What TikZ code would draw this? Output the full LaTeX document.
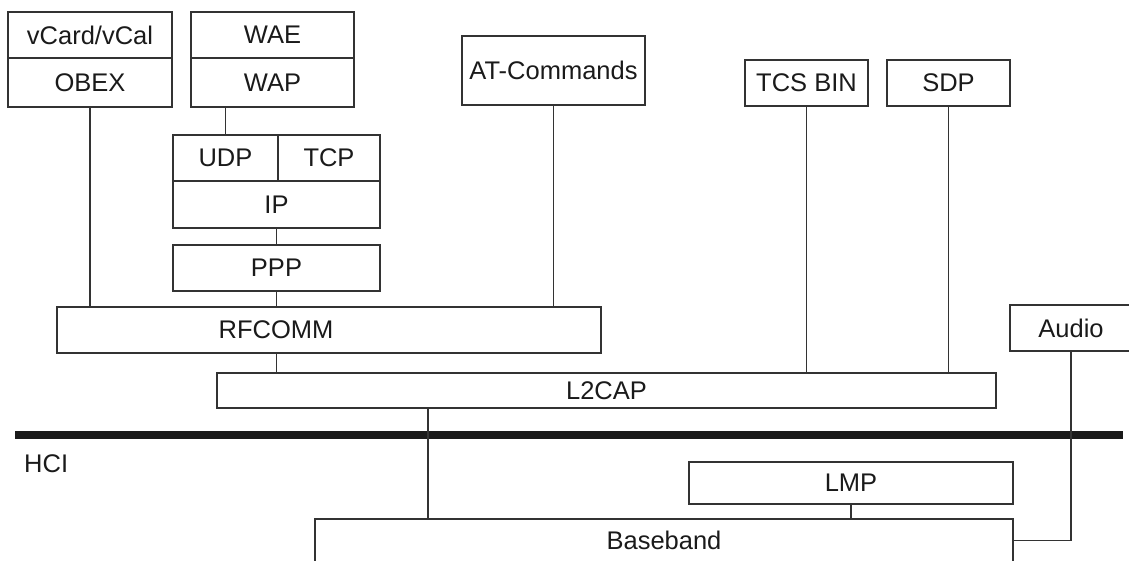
\documentclass[tikz,border=0pt]{standalone}
\usepackage{fontspec}
\setmainfont{Liberation Sans}
\definecolor{edge}{HTML}{333333}
\definecolor{ink}{HTML}{1A1A1A}
\begin{document}
\begin{tikzpicture}[x=1pt,y=-1pt,
  layer/.style={draw=edge, line width=1.8pt, inner sep=0pt, text=ink,
    font=\fontsize{25.5}{30}\selectfont},
  conn/.style={draw=edge, line width=1.8pt},
  bus/.style={draw=ink, line width=8.5pt}]
\useasboundingbox (0,0) rectangle (1129,560);
\clip (0,0) rectangle (1129,560);
% top row
\node[layer, minimum width=164, minimum height=46] (vcard) at (90,35) {vCard/vCal};
\node[layer, minimum width=164, minimum height=49] (obex) at (90,82.5) {OBEX};
\node[layer, minimum width=163, minimum height=46] (wae) at (272.5,35) {WAE};
\node[layer, minimum width=163, minimum height=49] (wap) at (272.5,82.5) {WAP};
\node[layer, minimum width=183, minimum height=69] (at) at (553.5,70.5) {AT-Commands};
\node[layer, minimum width=123, minimum height=46] (tcs) at (806.5,83) {TCS BIN};
\node[layer, minimum width=123, minimum height=46] (sdp) at (948.5,83) {SDP};
% IP stack
\node[layer, minimum width=105, minimum height=46] (udp) at (225.5,158) {UDP};
\node[layer, minimum width=102, minimum height=46] (tcp) at (329,158) {TCP};
\node[layer, minimum width=207, minimum height=47] (ip) at (276.5,204.5) {IP};
\node[layer, minimum width=207, minimum height=46] (ppp) at (276.5,268) {PPP};
% RFCOMM, L2CAP, Audio
\node[layer, minimum width=544, minimum height=46,
  label={[text=ink, font=\fontsize{25.5}{30}\selectfont, xshift=-53pt]center:RFCOMM}] (rfcomm) at (329,330) {};
\node[layer, minimum width=779, minimum height=35] (l2cap) at (606.5,390.5) {L2CAP};
\node[layer, minimum width=122, minimum height=46] (audio) at (1071,328) {Audio};
% HCI bus
\coordinate (busL) at (15,435);
\coordinate (busR) at (1123,435);
\draw[bus] (busL) -- (busR);
\node[text=ink, font=\fontsize{25.5}{30}\selectfont, anchor=west, inner sep=0pt] (hci) at (24,464) {HCI};
% lower
\node[layer, minimum width=324, minimum height=42] (lmp) at (851,483) {LMP};
\node[layer, minimum width=698, minimum height=43] (baseband) at (664,540.5) {Baseband};
% connectors
\draw[conn] (obex.south) -- (obex.south |- rfcomm.north);
\draw[conn] (udp.north) -- (udp.north |- wap.south);
\draw[conn] (ip.south) -- (ppp.north);
\draw[conn] (ppp.south) -- (ppp.south |- rfcomm.north);
\draw[conn] (at.south) -- (at.south |- rfcomm.north);
\draw[conn] (ppp.south |- rfcomm.south) -- (ppp.south |- l2cap.north);
\draw[conn] (tcs.south) -- (tcs.south |- l2cap.north);
\draw[conn] (sdp.south) -- (sdp.south |- l2cap.north);
\coordinate (l2tap) at (428,408);
\draw[conn] (l2tap |- l2cap.south) -- (l2tap |- baseband.north);
\draw[conn] (lmp.south) -- (lmp.south |- baseband.north);
\draw[conn] (audio.south) |- (baseband.east);
\end{tikzpicture}
\end{document}
